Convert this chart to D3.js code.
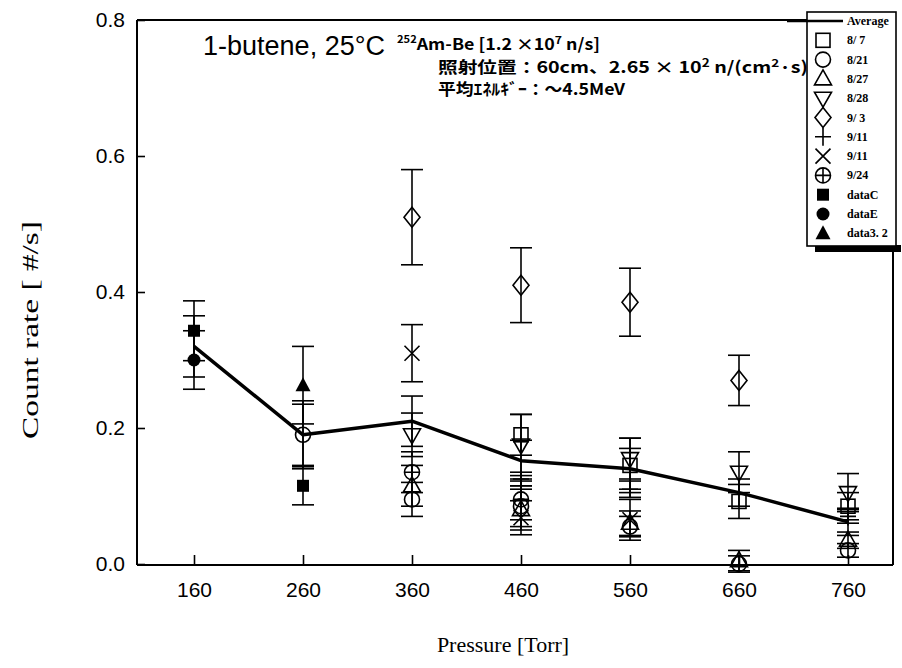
<!DOCTYPE html>
<html>
<head>
<meta charset="utf-8">
<script src="https://cdn.jsdelivr.net/npm/d3@7"></script>
<style>
  html, body { margin: 0; padding: 0; background: #fff; }
  svg { display: block; }
</style>
</head>
<body>
<svg id="chart" width="902" height="668"></svg>
<script>
// Pressure points (Torr) and y-axis ticks
const pressures = [160, 260, 360, 460, 560, 660, 760];
const yTicks = [0.0, 0.2, 0.4, 0.6, 0.8];

// Average count rate (line) with its error
const avgVals = [0.32, 0.19, 0.21, 0.152, 0.14, 0.105, 0.062];
const avgErr  = [0.045, 0.05, 0.037, 0.03, 0.03, 0.02, 0.02];

// Individual measurement runs (null = not measured)
const v0807 = [null, null, null, 0.19, 0.145, 0.092, 0.085];
const e0807 = [null, null, null, 0.03, 0.04, 0.025, 0.02];
const v0821 = [null, 0.19, 0.095, 0.085, 0.055, 0.0, 0.02];
const e0821 = [null, 0.045, 0.025, 0.03, 0.015, 0.012, 0.01];
const v0827 = [null, null, 0.115, 0.08, 0.06, 0.005, 0.035];
const e0827 = [null, null, 0.03, 0.03, 0.018, 0.015, 0.012];
const v0828 = [null, null, 0.19, 0.175, 0.155, 0.135, 0.105];
const e0828 = [null, null, 0.032, 0.045, 0.03, 0.03, 0.028];
const v0903 = [null, null, 0.51, 0.41, 0.385, 0.27, null];
const e0903 = [null, null, 0.07, 0.055, 0.05, 0.037, null];
const v0911a = [null, null, null, 0.125, 0.11, null, 0.07];
const e0911a = [null, null, null, 0.01, 0.012, null, 0.01];
const v0911b = [null, null, 0.31, 0.068, 0.065, null, null];
const e0911b = [null, null, 0.042, 0.025, 0.03, null, null];
const v0924 = [null, null, 0.135, 0.095, null, null, null];
const e0924 = [null, null, 0.03, 0.03, null, null, null];
const vDataC = [0.343, 0.115, null, null, null, null, null];
const eDataC = [0.044, 0.028, null, null, null, null, null];
const vDataE = [0.30, null, null, null, null, null, null];
const eDataE = [0.043, null, null, null, null, null, null];
const vData32 = [null, 0.263, null, null, null, null, null];
const eData32 = [null, 0.057, null, null, null, null, null];

const seriesNames = ["8/ 7", "8/21", "8/27", "8/28", "9/ 3", "9/11", "9/11", "9/24", "dataC", "dataE", "data3. 2"];
const seriesMarks = ["square", "circle", "triUp", "triDown", "diamond", "plus", "times", "circlePlus", "squareFill", "circleFill", "triFill"];
const seriesVals = [v0807, v0821, v0827, v0828, v0903, v0911a, v0911b, v0924, vDataC, vDataE, vData32];
const seriesErrs = [e0807, e0821, e0827, e0828, e0903, e0911a, e0911b, e0924, eDataC, eDataE, eData32];

const svg = d3.select("#chart");
const x = d3.scaleLinear().domain([160, 760]).range([194, 848]);
const y = d3.scaleLinear().domain([0, 0.8]).range([564, 20]);

const frame = { left: 137, right: 893, top: 20, bottom: 565 };
const legendBox = { x: 807, y: 12, w: 89, h: 234 };

// marker shapes
function drawMarker(g, type, cx, cy) {
  const m = g.append("g").attr("transform", `translate(${cx},${cy})`);
  const st = (sel) => sel.attr("fill", "none").attr("stroke", "#000").attr("stroke-width", 1.6);
  switch (type) {
    case "square": st(m.append("rect").attr("x", -7).attr("y", -7).attr("width", 14).attr("height", 14)); break;
    case "circle": st(m.append("circle").attr("r", 7.5)); break;
    case "triUp": st(m.append("path").attr("d", "M0,-9L8.5,6L-8.5,6Z")); break;
    case "triDown": st(m.append("path").attr("d", "M0,9L8.5,-6L-8.5,-6Z")); break;
    case "diamond": st(m.append("path").attr("d", "M0,-10L8,0L0,10L-8,0Z")); break;
    case "plus": st(m.append("path").attr("d", "M-8,0H8M0,-9V9")); break;
    case "times": st(m.append("path").attr("d", "M-7.5,-7.5L7.5,7.5M7.5,-7.5L-7.5,7.5")); break;
    case "circlePlus":
      st(m.append("circle").attr("r", 7.5));
      st(m.append("path").attr("d", "M-7.5,0H7.5M0,-7.5V7.5"));
      break;
    case "squareFill": m.append("rect").attr("x", -6).attr("y", -6).attr("width", 12).attr("height", 12).attr("fill", "#000"); break;
    case "circleFill": m.append("circle").attr("r", 6.5).attr("fill", "#000"); break;
    case "triFill": m.append("path").attr("d", "M0,-8L7.5,6L-7.5,6Z").attr("fill", "#000"); break;
  }
}

// axes (ticks point inward)
const xAxis = svg.append("g").attr("transform", `translate(0,${frame.bottom})`)
  .call(d3.axisBottom(x).tickValues(pressures).tickSize(-10).tickPadding(17).tickFormat(d3.format("d")));
const yAxis = svg.append("g").attr("transform", `translate(${frame.left},0)`)
  .call(d3.axisLeft(y).tickValues(yTicks).tickSize(-8).tickPadding(12).tickFormat(d3.format(".1f")));
[xAxis, yAxis].forEach(a => {
  a.select(".domain").remove();
  a.selectAll(".tick line").attr("stroke", "#000").attr("stroke-width", 1.6);
  a.selectAll(".tick text").attr("fill", "#000")
    .style("font-family", "'Liberation Sans', Arial, sans-serif").style("font-size", "21px");
});

// frame
const fr = svg.append("g").attr("stroke", "#000").attr("stroke-width", 2).attr("fill", "none");
fr.append("line").attr("x1", frame.left).attr("x2", frame.left).attr("y1", frame.top).attr("y2", frame.bottom);
fr.append("line").attr("x1", frame.left).attr("x2", frame.right).attr("y1", frame.bottom).attr("y2", frame.bottom);
fr.append("line").attr("x1", frame.left).attr("x2", legendBox.x).attr("y1", frame.top).attr("y2", frame.top);
fr.append("line").attr("x1", frame.right).attr("x2", frame.right).attr("y1", legendBox.y + legendBox.h).attr("y2", frame.bottom);

// error bars and markers of the individual runs
const plot = svg.append("g");
function errorBar(px, v, e) {
  const eb = plot.append("g").attr("stroke", "#000").attr("stroke-width", 1.6);
  eb.append("line").attr("x1", px).attr("x2", px).attr("y1", y(v - e)).attr("y2", y(v + e));
  eb.append("line").attr("x1", px - 11).attr("x2", px + 11).attr("y1", y(v + e)).attr("y2", y(v + e));
  eb.append("line").attr("x1", px - 11).attr("x2", px + 11).attr("y1", y(v - e)).attr("y2", y(v - e));
}
seriesVals.forEach((vals, si) => {
  vals.forEach((v, i) => {
    if (v == null) return;
    const px = x(pressures[i]);
    errorBar(px, v, seriesErrs[si][i] || 0);
    drawMarker(plot, seriesMarks[si], px, y(v));
  });
});

// average with its error bars
avgVals.forEach((v, i) => errorBar(x(pressures[i]), v, avgErr[i]));
plot.append("path")
  .datum(avgVals)
  .attr("fill", "none").attr("stroke", "#000").attr("stroke-width", 3.5).attr("stroke-linejoin", "round")
  .attr("d", d3.line().x((d, i) => x(pressures[i])).y(d => y(d)));

// axis titles
svg.append("text")
  .attr("transform", "translate(38,330) rotate(-90)")
  .attr("text-anchor", "middle")
  .attr("textLength", 218).attr("lengthAdjust", "spacingAndGlyphs")
  .style("font-family", "'Liberation Serif', 'Times New Roman', serif").style("font-size", "23px")
  .text("Count rate  [ #/s]");
svg.append("text")
  .attr("x", 503).attr("y", 652)
  .attr("text-anchor", "middle")
  .style("font-family", "'Liberation Serif', 'Times New Roman', serif").style("font-size", "22px")
  .text("Pressure [Torr]");

// header annotation
svg.append("text")
  .attr("x", 203).attr("y", 55)
  .attr("textLength", 182).attr("lengthAdjust", "spacingAndGlyphs")
  .style("font-family", "'Liberation Sans', Arial, sans-serif").style("font-size", "27px")
  .text("1-butene, 25°C");

const note = svg.append("g")
  .style("font-family", "'Noto Sans CJK JP', 'Noto Sans', sans-serif").style("font-size", "16px")
  .style("font-weight", "bold");
const l1 = note.append("text").attr("x", 397).attr("y", 50)
  .attr("textLength", 203).attr("lengthAdjust", "spacingAndGlyphs");
l1.append("tspan").attr("dy", -7).style("font-size", "10px").text("252");
l1.append("tspan").attr("dy", 7).text("Am-Be [1.2 ×10");
l1.append("tspan").attr("dy", -6).style("font-size", "11px").text("7");
l1.append("tspan").attr("dy", 6).text(" n/s]");
const l2 = note.append("text").attr("x", 438).attr("y", 73)
  .attr("textLength", 370).attr("lengthAdjust", "spacingAndGlyphs");
l2.append("tspan").text("照射位置：60cm、2.65 × 10");
l2.append("tspan").attr("dy", -6).style("font-size", "11px").text("2");
l2.append("tspan").attr("dy", 6).text(" n/(cm");
l2.append("tspan").attr("dy", -6).style("font-size", "11px").text("2");
l2.append("tspan").attr("dy", 6).text("·s)");
note.append("text").attr("x", 438).attr("y", 95)
  .attr("textLength", 187).attr("lengthAdjust", "spacingAndGlyphs")
  .text("平均ｴﾈﾙｷﾞｰ：～4.5MeV");

// legend
const lg = svg.append("g");
lg.append("rect").attr("x", legendBox.x + 8).attr("y", legendBox.y + legendBox.h - 1)
  .attr("width", legendBox.w - 3).attr("height", 7).attr("fill", "#000");
lg.append("rect").attr("x", legendBox.x).attr("y", legendBox.y).attr("width", legendBox.w).attr("height", legendBox.h)
  .attr("fill", "#fff").attr("stroke", "#000").attr("stroke-width", 1.6);
const rowY0 = legendBox.y + 9, rowStep = 19.3;
const lgFont = (t) => t.style("font-family", "'Liberation Serif', 'Times New Roman', serif")
  .style("font-size", "12px").style("font-weight", "bold");
lg.append("line").attr("x1", legendBox.x - 20).attr("x2", legendBox.x + 36)
  .attr("y1", rowY0).attr("y2", rowY0).attr("stroke", "#000").attr("stroke-width", 2.5);
lgFont(lg.append("text").attr("x", legendBox.x + 40).attr("y", rowY0 + 4).text("Average"));
seriesNames.forEach((name, i) => {
  const ry = rowY0 + rowStep * (i + 1);
  drawMarker(lg, seriesMarks[i], legendBox.x + 16, ry);
  lgFont(lg.append("text").attr("x", legendBox.x + 40).attr("y", ry + 4).text(name));
});
</script>
</body>
</html>
